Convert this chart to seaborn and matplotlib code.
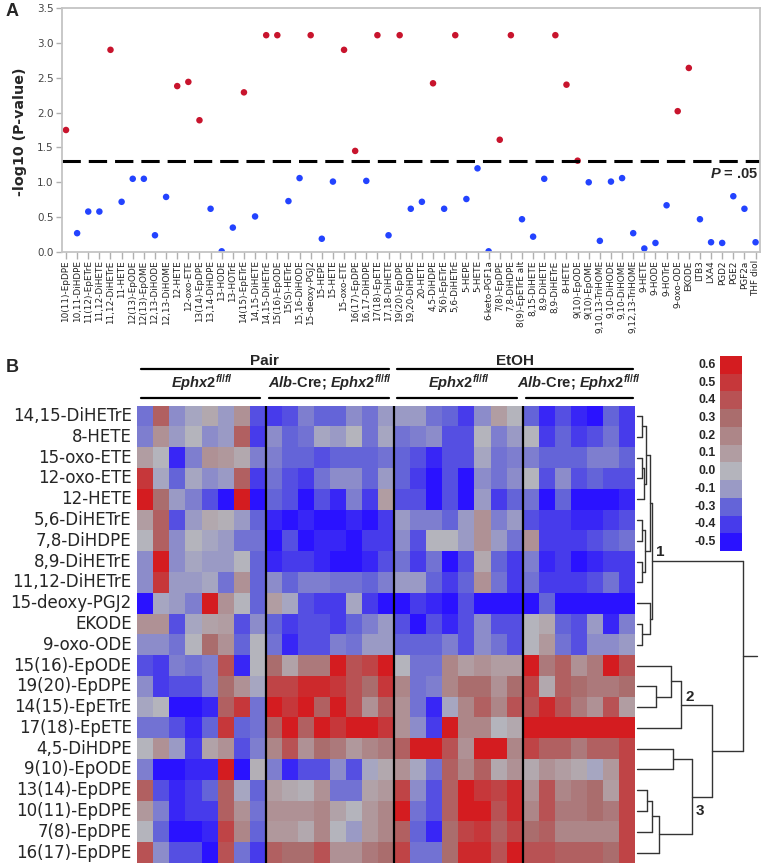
"""
Two-panel figure: (A) lipid mediator significance scan, (B) clustered heatmap.
"""

import numpy as np
import pandas as pd
import matplotlib.pyplot as plt
import seaborn as sns
from matplotlib.colors import LinearSegmentedColormap
from matplotlib.transforms import blended_transform_factory

# ---------------- panel A data ----------------
compounds = [
    "10(11)-EpDPE", "10,11-DiHDPE", "11(12)-EpETrE", "11,12-DiHETE", "11,12-DiHETrE",
    "11-HETE", "12(13)-EpODE", "12(13)-EpOME", "12,13-DiHODE", "12,13-DiHOME",
    "12-HETE", "12-oxo-ETE", "13(14)-EpDPE", "13,14-DiHDPE", "13-HODE",
    "13-HOTrE", "14(15)-EpETrE", "14,15-DiHETE", "14,15-DiHETrE", "15(16)-EpODE",
    "15(S)-HETrE", "15,16-DiHODE", "15-deoxy-PGJ2", "15-HEPE", "15-HETE",
    "15-oxo-ETE", "16(17)-EpDPE", "16,17-DiHDPE", "17(18)-EpETE", "17,18-DiHETE",
    "19(20)-EpDPE", "19,20-DiHDPE", "20-HETE", "4,5-DiHDPE", "5(6)-EpETrE",
    "5,6-DiHETrE", "5-HEPE", "5-HETE", "6-keto-PGF1a", "7(8)-EpDPE",
    "7,8-DiHDPE", "8(9)-EpETrE alt", "8,15-DiHETE", "8,9-DiHETE", "8,9-DiHETrE",
    "8-HETE", "9(10)-EpODE", "9(10)-EpOME", "9,10,13-TriHOME", "9,10-DiHODE",
    "9,10-DiHOME", "9,12,13-TriHOME", "9-HETE", "9-HODE", "9-HOTrE",
    "9-oxo-ODE", "EKODE", "LTB3", "LXA4", "PGD2",
    "PGE2", "PGF2a", "THF diol",
]
neg_log_p = [
    1.75, 0.27, 0.58, 0.58, 2.90, 0.72, 1.05, 1.05, 0.24, 0.79,
    2.38, 2.44, 1.89, 0.62, 0.01, 0.35, 2.29, 0.51, 3.11, 3.11,
    0.73, 1.06, 3.11, 0.19, 1.01, 2.90, 1.45, 1.02, 3.11, 0.24,
    3.11, 0.62, 0.72, 2.42, 0.62, 3.11, 0.76, 1.20, 0.01, 1.61,
    3.11, 0.47, 0.22, 1.05, 3.11, 2.40, 1.31, 1.00, 0.16, 1.01,
    1.06, 0.27, 0.05, 0.13, 0.67, 2.02, 2.64, 0.47, 0.14, 0.13,
    0.80, 0.62, 0.14,
]
P_CUTOFF = -np.log10(0.05)

# ---------------- panel B data ----------------
row_labels = [
    "14,15-DiHETrE", "8-HETE", "15-oxo-ETE", "12-oxo-ETE", "12-HETE",
    "5,6-DiHETrE", "7,8-DiHDPE", "8,9-DiHETrE", "11,12-DiHETrE", "15-deoxy-PGJ2",
    "EKODE", "9-oxo-ODE", "15(16)-EpODE", "19(20)-EpDPE", "14(15)-EpETrE",
    "17(18)-EpETE", "4,5-DiHDPE", "9(10)-EpODE", "13(14)-EpDPE", "10(11)-EpDPE",
    "7(8)-EpDPE", "16(17)-EpDPE",
]
diet_groups = ["Pair", "EtOH"]
FLOX = r"^{\mathit{fl}\mathbf{/}\mathit{fl}}"
genotype_groups = [
    r"$\mathit{Ephx2}" + FLOX + "$",
    r"$\mathit{Alb}$-Cre; $\mathit{Ephx2}" + FLOX + "$",
    r"$\mathit{Ephx2}" + FLOX + "$",
    r"$\mathit{Alb}$-Cre; $\mathit{Ephx2}" + FLOX + "$",
]
group_sizes = [8, 8, 8, 7]

heat_values = [
    [-0.25, 0.35, -0.15, -0.05, 0.05, -0.1, 0.15, -0.35, -0.4, -0.35, -0.2, -0.3, -0.3, -0.15, -0.25, -0.1,
     -0.1, -0.1, -0.25, -0.3, -0.4, -0.15, 0.1, 0.0, -0.3, -0.45, -0.35, -0.45, -0.5, -0.3, -0.4],
    [-0.2, 0.15, -0.1, 0.0, -0.15, -0.1, 0.35, -0.4, -0.15, -0.3, -0.25, -0.05, -0.1, 0.0, -0.25, -0.05,
     -0.25, -0.2, -0.15, -0.35, -0.35, 0.0, -0.2, -0.1, 0.0, -0.4, -0.3, -0.4, -0.35, -0.25, -0.4],
    [0.1, 0.0, -0.45, -0.2, 0.15, 0.12, 0.05, -0.2, -0.2, -0.3, -0.3, -0.35, -0.3, -0.3, -0.3, -0.25,
     -0.3, -0.35, -0.45, -0.35, -0.35, -0.05, -0.25, -0.2, -0.2, -0.3, -0.3, -0.3, -0.2, -0.2, -0.3],
    [0.5, -0.05, -0.3, -0.05, -0.15, -0.1, 0.35, -0.4, -0.25, -0.35, -0.4, -0.25, -0.15, -0.15, -0.3, -0.1,
     -0.3, -0.4, -0.5, -0.35, -0.5, -0.15, -0.25, -0.15, 0.0, -0.35, -0.15, -0.35, -0.3, -0.35, -0.35],
    [0.6, 0.3, -0.1, -0.2, -0.35, -0.5, 0.6, -0.5, -0.3, -0.35, -0.5, -0.35, -0.45, -0.2, -0.4, 0.1,
     -0.35, -0.35, -0.5, -0.35, -0.5, -0.1, -0.4, -0.3, -0.25, -0.5, -0.3, -0.5, -0.5, -0.5, -0.45],
    [0.1, 0.35, -0.35, -0.1, 0.05, 0.02, -0.1, -0.3, -0.45, -0.5, -0.45, -0.5, -0.5, -0.45, -0.5, -0.4,
     -0.1, -0.2, -0.2, -0.3, -0.1, 0.15, -0.2, -0.1, -0.35, -0.4, -0.4, -0.45, -0.45, -0.4, -0.35],
    [0.0, 0.35, -0.15, 0.0, -0.05, -0.1, -0.25, -0.25, -0.5, -0.35, -0.5, -0.45, -0.45, -0.5, -0.4, -0.4,
     -0.15, -0.35, 0.0, 0.0, -0.1, 0.15, -0.1, -0.25, 0.15, -0.4, -0.4, -0.4, -0.35, -0.3, -0.25],
    [-0.15, 0.6, -0.15, -0.05, -0.1, -0.1, 0.0, -0.3, -0.45, -0.4, -0.4, -0.45, -0.5, -0.5, -0.45, -0.35,
     -0.25, -0.4, -0.25, -0.5, -0.35, 0.05, -0.3, -0.4, -0.2, -0.45, -0.4, -0.5, -0.45, -0.4, -0.4],
    [-0.15, 0.5, -0.1, -0.1, -0.05, -0.25, 0.15, -0.3, -0.15, -0.3, -0.2, -0.2, -0.25, -0.25, -0.3, -0.2,
     -0.1, -0.1, -0.3, -0.4, -0.3, 0.15, -0.25, -0.4, -0.25, -0.4, -0.4, -0.4, -0.35, -0.25, -0.4],
    [-0.5, -0.05, -0.1, -0.2, 0.6, 0.15, 0.0, -0.3, 0.1, -0.05, -0.35, -0.4, -0.4, -0.05, -0.4, -0.5,
     -0.5, -0.4, -0.45, -0.5, -0.35, -0.5, -0.5, -0.5, -0.5, -0.3, -0.5, -0.5, -0.5, -0.5, -0.5],
    [0.15, 0.15, -0.35, -0.05, 0.08, 0.1, -0.35, -0.15, -0.3, -0.4, -0.35, -0.35, -0.4, -0.3, -0.2, -0.1,
     -0.35, -0.5, -0.35, -0.45, -0.35, -0.15, -0.35, -0.35, 0.0, 0.05, -0.3, -0.35, -0.1, -0.45, -0.2],
    [-0.15, -0.15, -0.25, 0.0, 0.3, 0.15, -0.3, 0.0, -0.25, -0.45, -0.35, -0.35, -0.2, -0.25, -0.1, -0.1,
     -0.3, -0.3, -0.3, -0.2, -0.35, -0.15, -0.25, -0.35, 0.0, 0.12, -0.25, -0.35, -0.15, -0.15, -0.1],
    [-0.35, -0.4, -0.2, -0.25, -0.2, 0.4, -0.45, 0.0, 0.3, 0.08, 0.25, 0.25, 0.6, 0.4, 0.45, 0.6,
     0.0, -0.25, -0.25, 0.2, 0.1, 0.15, 0.1, 0.1, 0.6, 0.25, 0.35, 0.15, 0.25, 0.6, 0.4],
    [-0.15, -0.4, -0.35, -0.35, -0.2, 0.3, 0.15, -0.05, 0.45, 0.45, 0.55, 0.55, 0.5, 0.4, 0.3, 0.5,
     0.2, -0.25, -0.2, 0.2, 0.3, 0.3, 0.15, 0.3, 0.45, 0.05, 0.35, 0.3, 0.25, 0.25, 0.3],
    [-0.05, 0.0, -0.5, -0.5, -0.45, 0.35, 0.5, -0.25, 0.6, 0.5, 0.6, 0.35, 0.6, 0.4, 0.15, 0.35,
     0.15, -0.25, -0.45, -0.05, 0.2, 0.35, 0.2, 0.4, 0.4, 0.55, 0.4, 0.25, 0.15, 0.4, 0.1],
    [-0.25, -0.25, -0.35, -0.45, -0.3, 0.5, -0.3, -0.25, 0.35, 0.6, 0.35, 0.6, 0.5, 0.6, 0.6, 0.5,
     0.15, -0.15, -0.4, 0.6, 0.2, 0.2, 0.0, 0.05, 0.6, 0.6, 0.6, 0.6, 0.6, 0.6, 0.6],
    [0.0, 0.15, -0.1, -0.4, 0.08, 0.15, -0.35, -0.2, 0.2, 0.4, 0.15, 0.3, 0.25, 0.12, 0.2, 0.25,
     0.35, 0.6, 0.6, 0.4, 0.15, 0.6, 0.6, 0.2, 0.45, 0.35, 0.35, 0.25, 0.35, 0.35, 0.45],
    [-0.2, -0.5, -0.5, -0.45, -0.45, 0.6, -0.5, 0.02, -0.2, -0.45, -0.35, -0.35, -0.15, -0.35, -0.05, 0.05,
     0.15, -0.05, -0.25, 0.35, 0.2, 0.35, 0.05, 0.15, 0.05, 0.15, 0.1, 0.05, -0.05, 0.12, 0.45],
    [0.35, -0.35, -0.45, -0.4, -0.3, 0.35, -0.05, -0.3, 0.1, 0.05, 0.02, 0.15, -0.25, -0.25, 0.08, 0.12,
     0.45, -0.15, -0.35, 0.35, 0.6, 0.5, 0.45, 0.55, 0.15, 0.4, 0.2, 0.25, 0.3, 0.1, 0.45],
    [0.12, -0.2, -0.45, -0.4, -0.4, 0.35, 0.15, -0.25, 0.15, 0.15, 0.15, 0.2, 0.08, 0.0, 0.12, 0.2,
     0.6, -0.25, -0.35, 0.35, 0.6, 0.6, 0.4, 0.55, 0.2, 0.4, 0.25, 0.25, 0.3, 0.25, 0.45],
    [0.0, -0.3, -0.5, -0.5, -0.45, 0.45, 0.2, -0.3, 0.12, 0.12, 0.05, 0.2, 0.0, -0.1, 0.12, 0.2,
     0.35, -0.3, -0.45, 0.3, 0.45, 0.5, 0.35, 0.45, 0.3, 0.35, 0.2, 0.2, 0.2, 0.2, 0.45],
    [0.4, -0.15, -0.35, -0.35, -0.5, 0.4, -0.25, -0.4, 0.35, 0.3, 0.3, 0.4, 0.15, 0.15, 0.25, 0.3,
     0.45, -0.25, -0.25, 0.3, 0.55, 0.55, 0.4, 0.6, 0.4, 0.4, 0.35, 0.35, 0.35, 0.3, 0.45],
]

scale_ticks = [0.6, 0.5, 0.4, 0.3, 0.2, 0.1, 0.0, -0.1, -0.3, -0.4, -0.5]

# row clustering: (child a, child b, merge distance); new nodes numbered from 22
row_merges = [
    (0, 1, 0.062), (2, 3, 0.062), (23, 4, 0.08), (22, 24, 0.105),
    (5, 6, 0.062), (7, 8, 0.062), (26, 27, 0.09), (25, 28, 0.135),
    (10, 11, 0.062), (9, 30, 0.14), (29, 31, 0.155),
    (13, 14, 0.195), (12, 33, 0.33), (34, 15, 0.43),
    (16, 17, 0.35), (18, 19, 0.11), (37, 20, 0.155), (38, 21, 0.225), (36, 39, 0.53),
    (35, 40, 0.715), (32, 41, 1.0),
]
cluster_names = {"1": 32, "2": 35, "3": 40}

RED = "#c8142d"
BLUE = "#2343ff"
W, H = 765, 865


def box(left, top, right, bottom):
    """Pixel box -> figure fraction rect."""
    return [left / W, 1 - bottom / H, (right - left) / W, (bottom - top) / H]


def draw_dendrogram(ax, merges, n_leaves, color="#333333"):
    pos = {i: i + 0.5 for i in range(n_leaves)}
    dist = {i: 0.02 for i in range(n_leaves)}
    for k, (a, b, h) in enumerate(merges):
        for child in (a, b):
            ax.plot([dist[child], h], [pos[child], pos[child]], color=color, lw=1.0)
        ax.plot([h, h], [pos[a], pos[b]], color=color, lw=1.0)
        node = n_leaves + k
        pos[node] = (pos[a] + pos[b]) / 2
        dist[node] = h
    return pos, dist


sns.set_style("white")
plt.rcParams["font.family"] = ["DejaVu Sans"]
plt.rcParams["mathtext.fontset"] = "custom"
plt.rcParams["mathtext.rm"] = "Liberation Sans:bold"
plt.rcParams["mathtext.bf"] = "Liberation Sans:bold"
plt.rcParams["mathtext.it"] = "Liberation Sans:italic:bold"

fig = plt.figure(figsize=(W / 100, H / 100), dpi=100)

# ---------------- panel A ----------------
ax_a = fig.add_axes(box(62, 8, 760, 252))
df_a = pd.DataFrame({"compound": compounds, "score": neg_log_p})
df_a["sig"] = np.where(df_a["score"] > P_CUTOFF, "sig", "ns")
sns.scatterplot(data=df_a, x="compound", y="score", hue="sig",
                palette={"sig": RED, "ns": BLUE}, s=22, linewidth=0,
                legend=False, ax=ax_a)
ax_a.axhline(P_CUTOFF, color="black", lw=2.2, dashes=(6, 2.6))
ax_a.set_xlim(-0.36, len(compounds) - 0.6)
ax_a.set_ylim(0, 3.5)
ax_a.set_yticks(np.arange(0, 3.51, 0.5))
ax_a.set_yticklabels([f"{v:.1f}" for v in np.arange(0, 3.51, 0.5)])
ax_a.set_xticks(range(len(compounds)))
ax_a.set_xticklabels(compounds, rotation=90)
ax_a.set_xlabel("")
ax_a.set_ylabel("")
ax_a.tick_params(axis="x", length=5, width=1, color="#b0b0b0", labelsize=6.4,
                 labelcolor="#222222", pad=1, bottom=True)
ax_a.tick_params(axis="y", length=4, width=1, color="#b0b0b0", labelsize=7.5,
                 labelcolor="#444444", pad=2, left=True)
for sp in ax_a.spines.values():
    sp.set_color("#c4c4c4")
    sp.set_linewidth(1.3)
tr = blended_transform_factory(ax_a.transAxes, ax_a.transData)
ax_a.text(0.997, 1.12, r"$\mathit{P}$ = .05", transform=tr, ha="right", va="center",
          fontsize=10.5, fontweight="bold", family="Liberation Sans")
fig.text(20 / W, 1 - 132 / H, "-log10 (P-value)", rotation=90, ha="center", va="center",
         fontsize=10.3, fontweight="bold")
fig.text(12 / W, 1 - 12 / H, "A", fontsize=13, fontweight="bold",
         family="Liberation Sans", ha="center", va="center")
fig.text(12 / W, 1 - 368 / H, "B", fontsize=13, fontweight="bold",
         family="Liberation Sans", ha="center", va="center")

# ---------------- panel B heatmap ----------------
cmap = LinearSegmentedColormap.from_list(
    "blue_gray_red",
    [(0.0, "#2a12ff"), (0.18, "#6464d8"), (0.4545, "#b4b4bc"),
     (0.727, "#aa6e6e"), (1.0, "#d41c20")],
)
n_cols = sum(group_sizes)
heat_df = pd.DataFrame(heat_values, index=row_labels,
                       columns=[f"s{i + 1}" for i in range(n_cols)])

ax_h = fig.add_axes(box(137.3, 405.7, 635, 863))
sns.heatmap(heat_df, cmap=cmap, vmin=-0.5, vmax=0.6, cbar=False, ax=ax_h,
            xticklabels=False, yticklabels=True)
ax_h.set_yticklabels(row_labels, rotation=0, fontsize=12)
ax_h.tick_params(axis="y", length=0, pad=4)
ax_h.set_xlabel("")
ax_h.set_ylabel("")

bounds = np.cumsum([0] + group_sizes)
for b in bounds[1:-1]:
    ax_h.axvline(b, color="black", lw=1.6)

# group annotation bars above the heatmap
for i, name in enumerate(genotype_groups):
    x0, x1 = bounds[i] + 0.2, bounds[i + 1] - (0.15 if i == len(group_sizes) - 1 else 0.35)
    ax_h.plot([x0, x1], [-0.39, -0.39], color="black", lw=1.6, clip_on=False)
    ax_h.text((bounds[i] + bounds[i + 1]) / 2, -1.1, name, ha="center", va="center",
              fontsize=10.5, fontweight="bold", family="Liberation Sans")
for i, name in enumerate(diet_groups):
    x0 = bounds[2 * i] + 0.2
    x1 = bounds[2 * i + 2] - (0.15 if i == 1 else 0.35)
    ax_h.plot([x0, x1], [-1.75, -1.75], color="black", lw=1.6, clip_on=False)
    ax_h.text((x0 + x1) / 2, -2.15, name, ha="center", va="center",
              fontsize=11, fontweight="bold", family="Liberation Sans")

# ---------------- dendrogram ----------------
ax_d = fig.add_axes(box(635, 405.7, 765, 863))
node_pos, node_dist = draw_dendrogram(ax_d, row_merges, len(row_labels))
root = len(row_labels) + len(row_merges) - 1
ax_d.plot([node_dist[root], 1.13], [node_pos[root], node_pos[root]], color="#333333", lw=1.0)
ax_d.set_xlim(0, 130 / 107.7)
ax_d.set_ylim(len(row_labels), 0)
ax_d.axis("off")
label_offsets = {"1": (6, 6.5), "2": (6, 5.5), "3": (6, -10.5)}
for name, node in cluster_names.items():
    ax_d.annotate(name, xy=(node_dist[node], node_pos[node]), xytext=label_offsets[name],
                  textcoords="offset points", ha="center", va="center",
                  fontsize=11, fontweight="bold", family="Liberation Sans")

# ---------------- colour key ----------------
ax_c = fig.add_axes(box(720, 356, 742, 551))
sns.heatmap(np.array(scale_ticks).reshape(-1, 1), cmap=cmap, vmin=-0.5, vmax=0.6,
            cbar=False, ax=ax_c, xticklabels=False,
            yticklabels=[f"{v:.1f}" for v in scale_ticks])
ax_c.set_yticklabels([f"{v:.1f}" for v in scale_ticks], rotation=0, fontsize=8.8,
                     fontweight="bold", family="Liberation Sans")
ax_c.tick_params(axis="y", length=0, pad=3)

fig.savefig("out.png", dpi=100)
plt.close(fig)
